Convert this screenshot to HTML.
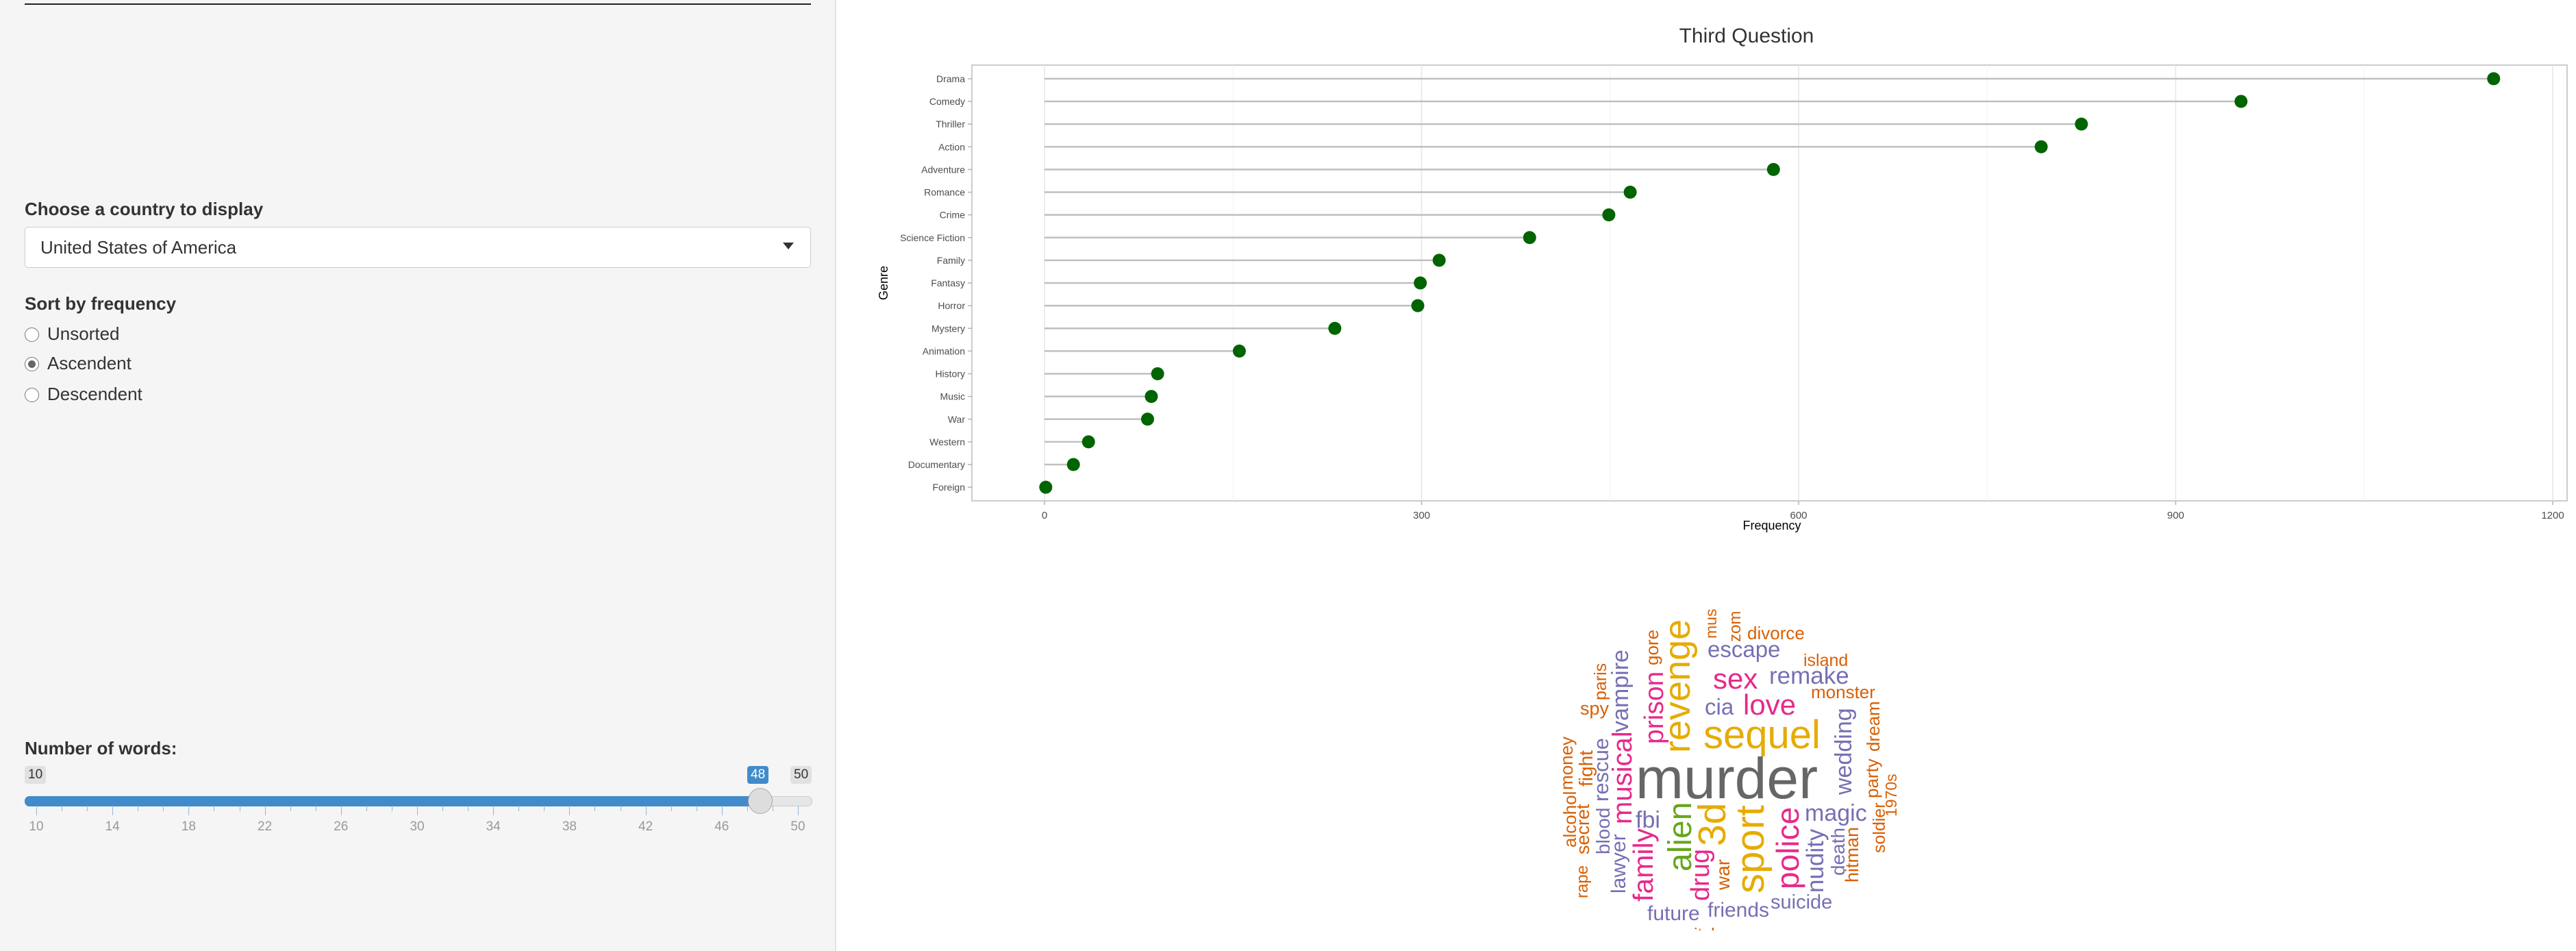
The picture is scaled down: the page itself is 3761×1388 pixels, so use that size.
<!DOCTYPE html>
<html><head><meta charset="utf-8"><style>
html,body{margin:0;padding:0;width:3761px;height:1388px;overflow:hidden;background:#fff;font-family:"Liberation Sans",sans-serif;}
#side{position:absolute;left:0;top:0;width:1219px;height:1388px;background:#f5f5f5;border-right:2px solid #e3e3e3;}
.lbl{position:absolute;left:36px;font-weight:bold;font-size:26px;color:#333;}
.radio{position:absolute;left:36px;font-size:26px;color:#333;}
.radio span.c{display:inline-block;width:19px;height:19px;border:1.5px solid #777;border-radius:50%;vertical-align:-3px;margin-right:12px;background:#fff;position:relative}
.badge{position:absolute;top:1118px;height:26px;font-size:19px;line-height:26px;padding:0 5px;border-radius:4px;background:#e1e1e1;color:#333}
svg text{font-family:"Liberation Sans",sans-serif}
</style></head><body>
<div id="side">
 <div style="position:absolute;left:36px;top:5px;width:1148px;height:2px;background:#222"></div>
 <div class="lbl" style="top:290px">Choose a country to display</div>
 <div style="position:absolute;left:36px;top:331px;width:1146px;height:58px;background:#fff;border:1.5px solid #ccc;border-radius:5px">
  <span style="position:absolute;left:22px;top:14px;font-size:26px;color:#333">United States of America</span>
  <span style="position:absolute;right:24px;top:22px;width:0;height:0;border-left:8px solid transparent;border-right:8px solid transparent;border-top:10px solid #333"></span>
 </div>
 <div class="lbl" style="top:428px">Sort by frequency</div>
 <div class="radio" style="top:472px"><span class="c"></span>Unsorted</div>
 <div class="radio" style="top:515px"><span class="c"><span style="position:absolute;left:4px;top:4px;width:11px;height:11px;border-radius:50%;background:#666"></span></span>Ascendent</div>
 <div class="radio" style="top:560px"><span class="c"></span>Descendent</div>
 <div class="lbl" style="top:1077px">Number of words:</div>
 <div class="badge" style="left:36px">10</div>
 <div class="badge" style="left:1091px;background:#428bca;color:#fff">48</div>
 <div class="badge" style="left:1154px">50</div>
 <div style="position:absolute;left:36px;top:1162px;width:1148px;height:13px;border-radius:7px;background:#e6e6e6;border:1px solid #ccc"></div>
 <div style="position:absolute;left:36px;top:1162px;width:1076px;height:15px;border-radius:7px;background:#428bca"></div>
 <div id="ticks"></div>
 <div style="position:absolute;left:1092px;top:1150px;width:34px;height:36px;border-radius:50%;background:#ddd;border:1.5px solid #aaa"></div>
</div>
<script>
(function(){
 const t=document.getElementById('ticks');
 for(let i=0;i<=30;i++){
  const x=53+i*(1165-53)/30, major=i%3===0;
  const d=document.createElement('div');
  
  
  d.style.cssText=`position:absolute;left:${x}px;top:1176px;width:1px;height:${major?14:8}px;background:#9bb6d0`;
  t.appendChild(d);
  if(major){
   const l=document.createElement('div');
   
   
   l.style.cssText=`position:absolute;left:${x-20}px;width:40px;text-align:center;top:1196px;font-size:19px;color:#999`;
   l.textContent=10+i/3*4; t.appendChild(l);
  }
 }
})();
</script>
<svg id="chart" width="3761" height="1388" style="position:absolute;left:0;top:0"></svg>
<script>
const categories=["Drama","Comedy","Thriller","Action","Adventure","Romance","Crime","Science Fiction","Family","Fantasy","Horror","Mystery","Animation","History","Music","War","Western","Documentary","Foreign"];
const frequencies=[1153,952,825,793,580,466,449,386,314,299,297,231,155,90,85,82,35,23,1];
const xTicks=[0,300,600,900,1200];
const xMinor=[150,450,750,1050];
const NS='http://www.w3.org/2000/svg';
const svg=document.getElementById('chart');
const PL=1419,PR=3748,PT=95,PB=731;
const xs=v=>1525+v*1.835;
const step=(PB-PT)/(categories.length-1+1.2);
const ys=i=>PT+step*(0.6+i);
function el(tag,attrs,txt){const e=document.createElementNS(NS,tag);for(const k in attrs)e.setAttribute(k,attrs[k]);if(txt!==undefined)e.textContent=txt;svg.appendChild(e);return e;}
let e;
e=el('rect',{x:PL,y:PT,width:PR-PL,height:PB-PT,fill:'#fff',stroke:'#cccccc','stroke-width':2});


xMinor.forEach(v=>{e=el('line',{x1:xs(v),x2:xs(v),y1:PT,y2:PB,stroke:'#f2f2f2','stroke-width':1});

});
xTicks.forEach(v=>{e=el('line',{x1:xs(v),x2:xs(v),y1:PT,y2:PB,stroke:'#e6e6e6','stroke-width':1.5});


e=el('line',{x1:xs(v),x2:xs(v),y1:PB,y2:PB+6,stroke:'#b3b3b3','stroke-width':1.5});


e=el('text',{x:xs(v),y:PB+26,'text-anchor':'middle','font-size':15,fill:'#4d4d4d'},v);

});
categories.forEach((c,i)=>{const y=ys(i);
e=el('line',{x1:PL-6,x2:PL,y1:y,y2:y,stroke:'#b3b3b3','stroke-width':1.5});


e=el('text',{x:PL-10,y:y+5,'text-anchor':'end','font-size':14,fill:'#4d4d4d'},c);


e=el('line',{x1:xs(0),x2:xs(frequencies[i]),y1:y,y2:y,stroke:'#bfbfbf','stroke-width':2.5});


e=el('circle',{cx:xs(frequencies[i]),cy:y,r:9.5,fill:'#006400'});

});
e=el('text',{x:2550,y:62,'text-anchor':'middle','font-size':30,fill:'#333'},'Third Question');


e=el('text',{x:2587,y:773,'text-anchor':'middle','font-size':18,fill:'#000'},'Frequency');


e=el('text',{x:0,y:0,'text-anchor':'middle','font-size':18,fill:'#000',transform:'translate(1296,413) rotate(-90)'},'Genre');



/* word cloud: [word,size,color,x,y,vertical] */
const words=[
["murder",84,"#666666",2388,1165,0],["sequel",58,"#e6ab02",2487,1092,0],["love",42,"#e7298a",2545,1043,0],
["sex",42,"#e7298a",2501,1005,0],["cia",33,"#7570b3",2489,1043,0],["remake",35,"#7570b3",2583,998,0],
["escape",33,"#7570b3",2493,959,0],["divorce",26,"#d95f02",2551,933,0],["island",25,"#d95f02",2633,972,0],
["monster",26,"#d95f02",2644,1019,0],["magic",34,"#7570b3",2635,1198,0],["suicide",29,"#7570b3",2585,1326,0],
["friends",30,"#7570b3",2493,1338,0],["future",30,"#7570b3",2405,1343,0],["witch",25,"#d95f02",2455,1372,0],
["spy",27,"#d95f02",2307,1043,0],["fbi",34,"#7570b3",2388,1208,0],
["revenge",54,"#e6ab02",2467,1099,1],["prison",39,"#e7298a",2428,1086,1],["gore",26,"#d95f02",2421,971,1],
["mus",23,"#d95f02",2506,932,1],["zom",24,"#d95f02",2541,937,1],["vampire",34,"#7570b3",2377,1069,1],
["paris",25,"#d95f02",2345,1022,1],["musical",40,"#e7298a",2382,1203,1],["rescue",31,"#7570b3",2348,1170,1],
["money",26,"#d95f02",2296,1153,1],["fight",28,"#d95f02",2325,1148,1],["alcohol",26,"#d95f02",2301,1237,1],
["secret",27,"#d95f02",2320,1247,1],["rape",24,"#d95f02",2318,1311,1],["blood",28,"#7570b3",2350,1247,1],
["lawyer",30,"#7570b3",2373,1304,1],["family",41,"#e7298a",2413,1316,1],["alien",48,"#66a61e",2469,1272,1],
["drug",38,"#e7298a",2495,1315,1],["3d",57,"#e6ab02",2519,1235,1],["war",28,"#d95f02",2525,1299,1],
["sport",58,"#e6ab02",2575,1304,1],["police",46,"#e7298a",2626,1298,1],["nudity",35,"#7570b3",2662,1303,1],
["death",28,"#7570b3",2693,1278,1],["hitman",27,"#d95f02",2713,1288,1],["wedding",34,"#7570b3",2703,1160,1],
["party",26,"#d95f02",2742,1165,1],["dream",26,"#d95f02",2744,1097,1],["soldier",25,"#d95f02",2752,1245,1],
["1970s",23,"#d95f02",2769,1192,1]];
const clip=el('clipPath',{id:'wc'});
const cr=document.createElementNS(NS,'rect');cr.setAttribute('x',2200);cr.setAttribute('y',860);cr.setAttribute('width',600);cr.setAttribute('height',498);clip.appendChild(cr);
const g=el('g',{'clip-path':'url(#wc)'});


words.forEach(w=>{const t=document.createElementNS(NS,'text');
t.setAttribute('font-size',w[1]);t.setAttribute('fill',w[2]);
t.setAttribute('transform',`translate(${w[3]},${w[4]})`+(w[5]?' rotate(-90)':''));
t.textContent=w[0];


g.appendChild(t);});
</script>
</body></html>
